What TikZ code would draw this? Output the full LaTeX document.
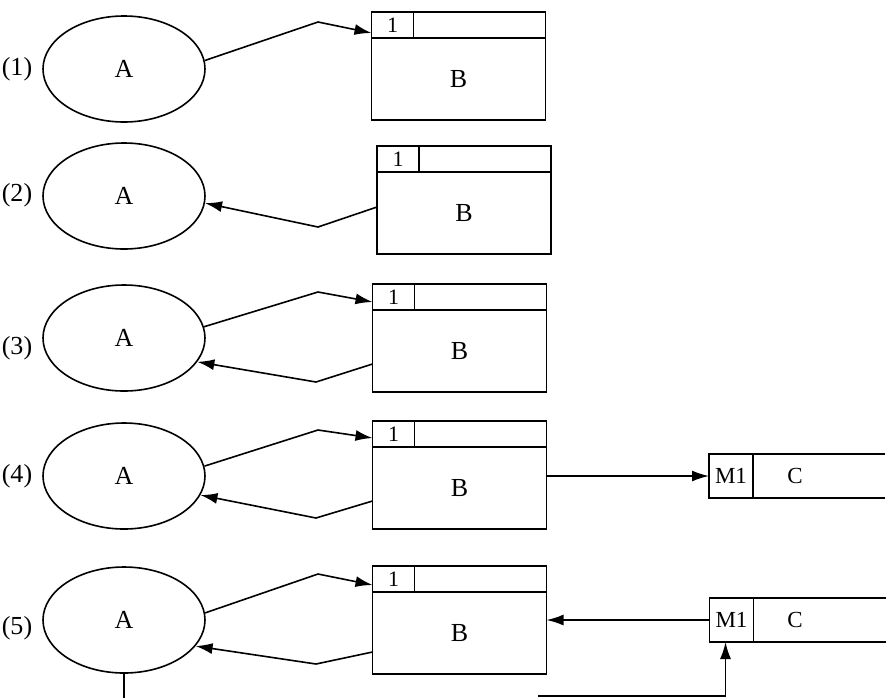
\documentclass[tikz,border=0pt]{standalone}
\usepackage{fontspec}
\setmainfont{Liberation Serif}
\usetikzlibrary{arrows.meta,shapes.geometric,positioning}

\tikzset{flow/.style={-{Latex[length=17pt,width=11pt]}}}

\begin{document}
\begin{tikzpicture}[x=1pt,y=-1pt,line width=1.6pt,
    font=\fontsize{26pt}{30pt}\selectfont]

        \useasboundingbox (0,0) rectangle (890,697);

        % row numbers
        \begin{scope}[every node/.style={inner sep=0pt}]
          \node (l1) at (17,69)  {(1)};
          \node (l2) at (17,195) {(2)};
          \node (l3) at (17,348) {(3)};
          \node (l4) at (17,476) {(4)};
          \node (l5) at (17,628) {(5)};
        \end{scope}

        % the A ellipses
        \begin{scope}[every node/.style={ellipse,draw,minimum width=162,minimum height=106,inner sep=0pt}]
          \node (a1) at (124,69)  {A};
          \node (a2) at (124,196) {A};
          \node (a3) at (124,338) {A};
          \node (a4) at (124,476) {A};
          \node (a5) at (124,620) {A};
        \end{scope}

        % the B boxes: header, cell and body
        \begin{scope}[every node/.style={rectangle,draw,minimum width=174,inner sep=0pt,outer sep=0pt}]
          \node[minimum height=26] (h1) at (458.5,25)  {};
          \node[minimum height=26] (h2) at (464,159)   {};
          \node[minimum height=26] (h3) at (459.5,297) {};
          \node[minimum height=26] (h4) at (459.5,434) {};
          \node[minimum height=26] (h5) at (459.5,579) {};
          \node[minimum height=82, below=0pt of h1] (b1) {B};
          \node[minimum height=82, below=0pt of h2] (b2) {B};
          \node[minimum height=82, below=0pt of h3] (b3) {B};
          \node[minimum height=82, below=0pt of h4] (b4) {B};
          \node[minimum height=82, below=0pt of h5] (b5) {B};
        \end{scope}

        \begin{scope}[every node/.style={rectangle,draw,minimum width=42,minimum height=26,
            inner sep=0pt,outer sep=0pt,anchor=west,font=\fontsize{22pt}{24pt}\selectfont}]
          \node (n1) at (h1.west) {1};
          \node (n2) at (h2.west) {1};
          \node (n3) at (h3.west) {1};
          \node (n4) at (h4.west) {1};
          \node (n5) at (h5.west) {1};
        \end{scope}

        % the C boxes, open on the right
        \begin{scope}[every node/.style={font=\fontsize{23pt}{26pt}\selectfont,inner sep=0pt,outer sep=0pt}]
          \node[draw,minimum width=44,minimum height=44] (m4) at (731,476)   {M1};
          \node[draw,minimum width=44,minimum height=44] (m5) at (731.5,620) {M1};
          \node (c4) at (795,476) {C};
          \node (c5) at (795,620) {C};
        \end{scope}
        \draw (m4.north east) -- ++(132,0);
        \draw (m4.south east) -- ++(132,0);
        \draw (m5.north east) -- ++(132,0);
        \draw (m5.south east) -- ++(132,0);

        % A to B
        \draw[flow] (a1.6)  -- (318,22)  -- ([yshift=-8pt]n1.west);
        \draw[flow] (a3.8)  -- (318,292) -- ([yshift=-5pt]n3.west);
        \draw[flow] (a4.7)  -- (318,430) -- ([yshift=-4pt]n4.west);
        \draw[flow] (a5.5)  -- (318,574) -- ([yshift=-6pt]n5.west);

        % B to A
        \draw[flow] ([yshift=6pt]b2.west)   -- (318,227) -- (a2.-5);
        \draw[flow] ([yshift=-13pt]b3.west) -- (316,382) -- (a3.-18);
        \draw[flow] ([yshift=-13pt]b4.west) -- (316,518) -- (a4.-14);
        \draw[flow] ([yshift=-19pt]b5.west) -- (316,664) -- (a5.-20);

        % B and C
        \draw[flow] (b4.east |- m4) -- (m4.west);
        \draw[flow] (m5.west) -- (b5.east |- m5);

        % lines running off the bottom
        \coordinate (q5) at (538,696);
        \draw (a5.south) -- ++(0,24);
        \draw[flow] (q5) -| ([xshift=-6pt]m5.south);

      \end{tikzpicture}
\end{document}
